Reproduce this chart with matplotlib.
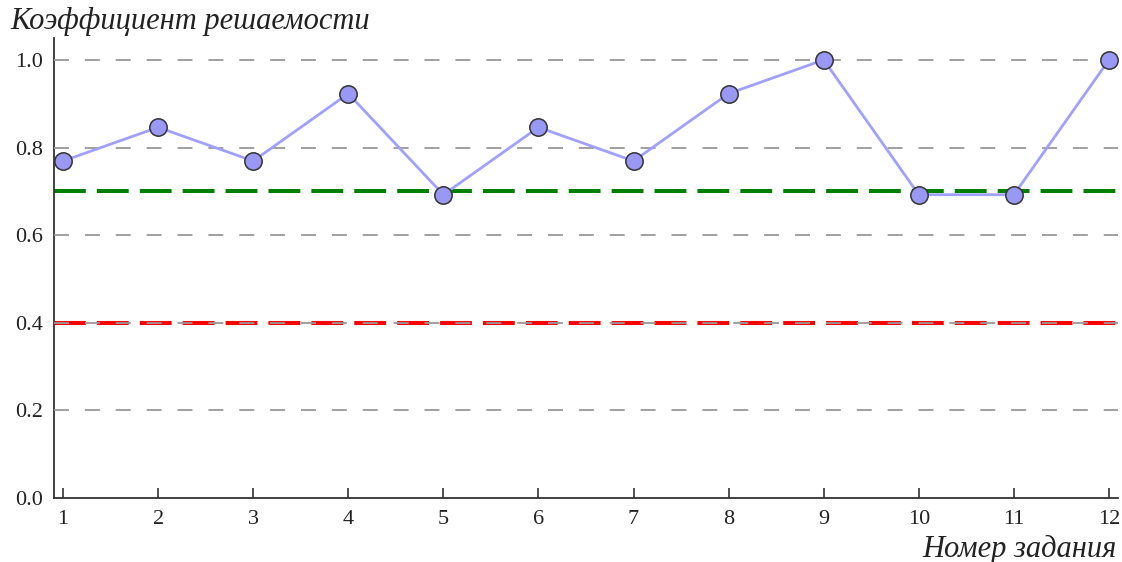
import matplotlib
matplotlib.use("Agg")
import matplotlib.pyplot as plt

tasks = [1, 2, 3, 4, 5, 6, 7, 8, 9, 10, 11, 12]
coef = [10/13, 11/13, 10/13, 12/13, 9/13, 11/13, 10/13, 12/13, 1.0, 9/13, 9/13, 1.0]
upper_level = 0.7
lower_level = 0.4
yticks = [0.0, 0.2, 0.4, 0.6, 0.8, 1.0]

plt.rcParams['font.family'] = ['Liberation Serif', 'DejaVu Serif']

fig = plt.figure(figsize=(11.22, 5.62), dpi=100)
ax = fig.add_axes([54/1122, 1 - 498/562, (1118-54)/1122, (498-38)/562])

for y in yticks[1:]:
    ax.axhline(y, color='#999999', lw=1.3, dashes=(8.3, 8.8), zorder=3)
ax.axhline(upper_level, color='#008000', lw=2.9, dashes=(7.9, 2.75), zorder=2)
ax.axhline(lower_level, color='#ff0000', lw=2.9, dashes=(7.9, 2.75), zorder=2)

ax.plot(tasks, coef, color='#a0a0ff', lw=2, marker='o', markersize=12.5,
        markerfacecolor='#9999f5', markeredgecolor='#333333', markeredgewidth=1.1, zorder=4)

ax.set_xlim(0.905, 12.095)
ax.set_ylim(0, 1.05)
ax.set_xticks(tasks)
ax.set_yticks(yticks)
ax.set_yticklabels([f'{v:.1f}' for v in yticks])
for s in ['top', 'right']:
    ax.spines[s].set_visible(False)
for s in ['left', 'bottom']:
    ax.spines[s].set_color('#333333')
    ax.spines[s].set_linewidth(1.3)
ax.tick_params(axis='x', direction='in', length=7.5, width=1.2, color='#333333', labelsize=16, pad=9, labelcolor='#222222')
ax.tick_params(axis='y', length=0, labelsize=16, pad=8, labelcolor='#222222')

fig.text(10/1122, 1 - 22/562, 'Коэффициент решаемости', fontsize=22, style='italic',
         ha='left', va='center', color='#222222')
fig.text(1117/1122, 1 - 549/562, 'Номер задания', fontsize=22, style='italic',
         ha='right', va='center', color='#222222')

fig.savefig('out.png', dpi=100)
